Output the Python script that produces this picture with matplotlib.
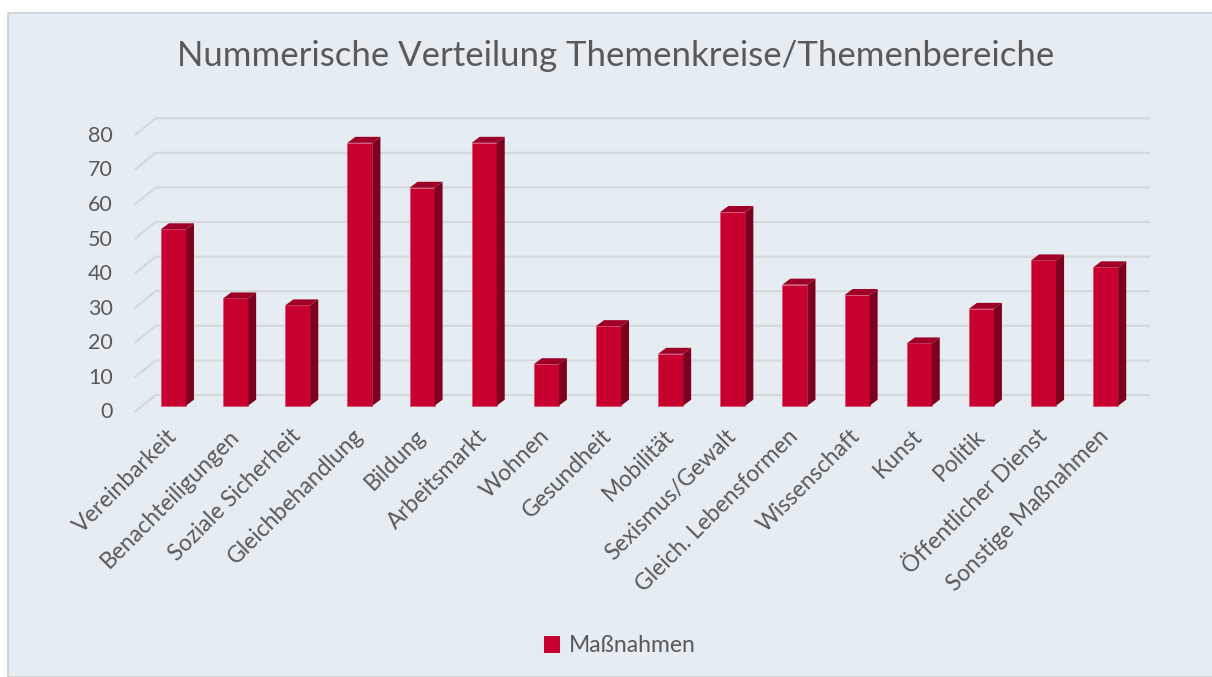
import matplotlib.pyplot as plt
from matplotlib.patches import Polygon, Rectangle, Patch

plt.rcParams['font.family'] = ['Lato', 'DejaVu Sans']

categories = ["Vereinbarkeit", "Benachteiligungen", "Soziale Sicherheit",
              "Gleichbehandlung", "Bildung", "Arbeitsmarkt", "Wohnen",
              "Gesundheit", "Mobilität", "Sexismus/Gewalt",
              "Gleich. Lebensformen", "Wissenschaft", "Kunst", "Politik",
              "Öffentlicher Dienst", "Sonstige Maßnahmen"]
values = [51, 31, 29, 76, 63, 76, 12, 23, 15, 56, 35, 32, 18, 28, 42, 40]
yticks = [0, 10, 20, 30, 40, 50, 60, 70, 80]
series_name = "Maßnahmen"
title = "Nummerische Verteilung Themenkreise/Themenbereiche"

W, H = 1212, 677
bg = "#E5EDF3"
txt = "#595959"
grid_c = "#D5D8DB"
front_c = "#C8002F"
side_c = "#7E001F"
top_c = "#9E0027"

fig = plt.figure(figsize=(W / 100, H / 100), dpi=100)
fig.patch.set_facecolor("white")
fig.add_artist(Rectangle((8 / W, 0), 1 - 8 / W + 0.01, 1 - 13 / H,
                         transform=fig.transFigure, facecolor=bg,
                         edgecolor="#D0D0D0", lw=1.2, zorder=0))

# front plane of the bars, in pixels
x_left, x_right = 142.4, 1136.8
y_zero, y_top = 405.7, 405.7 - 80 * 3.459
ax = fig.add_axes([x_left / W, (H - y_zero) / H,
                   (x_right - x_left) / W, (y_zero - y_top) / H])
ax.set_xlim(-0.5, len(categories) - 0.5)
ax.set_ylim(0, 80)
ax.axis("off")

px_x = len(categories) / (x_right - x_left)   # data units per pixel
px_y = 80 / (y_zero - y_top)

# depth offsets in pixels (right, up)
wall_dx, wall_dy = 13.2, 10.7     # back wall behind bar front plane
floor_dx, floor_dy = -7.8, -6.3   # floor front edge
bar_dx, bar_dy = 8, 6             # bar depth

for t in yticks:
    yb = t + wall_dy * px_y
    yf = t + floor_dy * px_y
    xb0 = -0.5 + wall_dx * px_x
    xb1 = len(categories) - 0.5 + wall_dx * px_x
    xf0 = -0.5 + floor_dx * px_x
    ax.plot([xf0, xb0, xb1], [yf, yb, yb], color=grid_c, lw=1.6,
            clip_on=False, zorder=1, solid_capstyle="butt")
    ax.text(xf0 - 22 * px_x, t + (floor_dy - 0.5) * px_y, str(t),
            ha="right", va="center", fontsize=15.5, color=txt)

bw = 25 * px_x
ddx, ddy = bar_dx * px_x, bar_dy * px_y
for i, v in enumerate(values):
    x0 = i - bw / 2
    x1 = i + bw / 2
    ax.add_patch(Rectangle((x0, 0), bw, v, facecolor=front_c,
                           edgecolor="#D8506E", lw=0.5, zorder=3,
                           clip_on=False))
    ax.add_patch(Polygon([(x1, 0), (x1 + ddx, ddy), (x1 + ddx, v + ddy),
                          (x1, v)], closed=True, facecolor=side_c,
                         edgecolor="none", zorder=3, clip_on=False))
    ax.add_patch(Polygon([(x0, v), (x0 + ddx, v + ddy), (x1 + ddx, v + ddy),
                          (x1, v)], closed=True, facecolor=top_c,
                         edgecolor="none", zorder=3, clip_on=False))
    ax.text(i + 0 * px_x, -27 * px_y, categories[i], rotation=45,
            rotation_mode="anchor", ha="right", va="center",
            fontsize=16.5, color=txt)

fig.text(616 / W, 1 - 56 / H, title, ha="center", va="center",
         fontsize=25, color=txt)

fig.legend(handles=[Patch(facecolor=front_c, edgecolor="none")],
           labels=[series_name], loc="center",
           bbox_to_anchor=(620 / W, 1 - 646 / H), frameon=False,
           handlelength=0.7, handleheight=0.7, handletextpad=0.4,
           fontsize=16.5, labelcolor=txt)

fig.savefig("out.png", dpi=100, facecolor=fig.get_facecolor())
